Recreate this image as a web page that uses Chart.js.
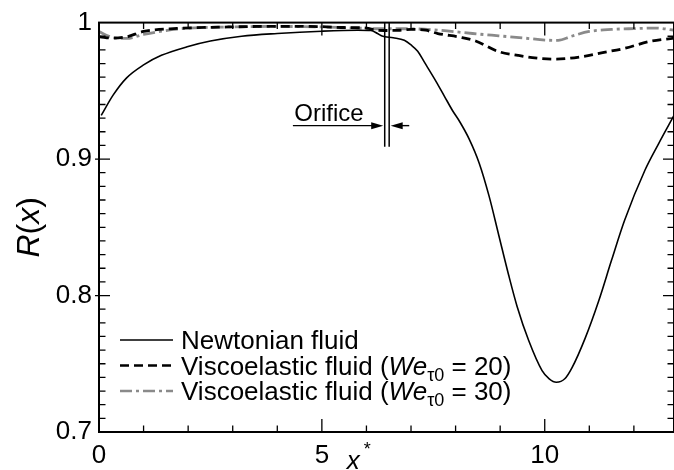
<!DOCTYPE html>
<html>
<head>
<meta charset="utf-8">
<title>R(x) along the channel</title>
<script src="https://cdn.jsdelivr.net/npm/chart.js@4.4.1/dist/chart.umd.min.js"></script>
<style>
  html, body { margin: 0; padding: 0; background: #fff; }
  canvas { display: block; }
</style>
</head>
<body>
<canvas id="chart" width="674" height="470"></canvas>
<script>
// axial position x* and R(x) for each fluid
const newtonX = [0.05, 0.32, 0.62, 1.0, 1.4, 2.0, 2.5, 3.2, 4.0, 5.0, 5.8, 6.1, 6.25, 6.35, 6.6, 6.85, 7.0, 7.15, 7.3, 7.56, 7.75, 7.93, 8.1, 8.3, 8.53, 8.75, 8.97, 9.19, 9.38, 9.64, 9.94, 10.1, 10.26, 10.45, 10.61, 10.91, 11.21, 11.5, 11.79, 12.25, 12.55, 12.9];
const newtonR = [0.932, 0.947, 0.9595, 0.969, 0.976, 0.9825, 0.9865, 0.990, 0.992, 0.9937, 0.9944, 0.9942, 0.992, 0.9902, 0.9889, 0.987, 0.9836, 0.979, 0.971, 0.957, 0.946, 0.9356, 0.927, 0.915, 0.897, 0.873, 0.844, 0.815, 0.792, 0.767, 0.745, 0.739, 0.7365, 0.739, 0.747, 0.769, 0.796, 0.826, 0.855, 0.892, 0.911, 0.932];

const we20X = [0.02, 0.3, 0.62, 1.0, 1.75, 2.9, 4.0, 5.0, 5.5, 6.0, 6.2, 6.4, 6.75, 7.0, 7.33, 7.6, 8.1, 8.45, 8.97, 9.4, 9.72, 10.24, 10.84, 11.3, 11.8, 12.33, 12.9];
const we20R = [0.9896, 0.9886, 0.9896, 0.9935, 0.9957, 0.9968, 0.9973, 0.997, 0.9964, 0.996, 0.9945, 0.9942, 0.9944, 0.995, 0.9944, 0.992, 0.9893, 0.9865, 0.9787, 0.976, 0.9744, 0.9732, 0.9751, 0.978, 0.9812, 0.986, 0.9886];

const we30X = [0.0, 0.25, 0.62, 1.0, 1.75, 2.9, 4.0, 5.0, 5.8, 6.2, 6.5, 6.9, 7.63, 8.38, 8.97, 9.5, 10.02, 10.3, 10.6, 11.0, 11.5, 12.0, 12.5, 12.9];
const we30R = [0.9935, 0.9896, 0.9884, 0.9913, 0.9952, 0.9968, 0.9972, 0.9968, 0.996, 0.9955, 0.9955, 0.9955, 0.9944, 0.992, 0.9903, 0.9888, 0.9872, 0.987, 0.990, 0.9935, 0.995, 0.9956, 0.996, 0.9944];

const seriesNames = ['Newtonian fluid', 'Viscoelastic fluid', 'Viscoelastic fluid'];
const weValues = [null, 20, 30];

const xTicks = [0, 5, 10];
const yTicks = [0.7, 0.8, 0.9, 1];

// orifice walls and the arrow marking it
const orificeX = [6.41, 6.51];
const orificeBottom = 0.909;

const FONT = "'Liberation Sans', Arial, Helvetica, sans-serif";

const toPoints = (xs, ys) => xs.map((v, i) => ({ x: v, y: ys[i] }));

function drawArrow(ctx, x1, x2, y) {
  const dir = Math.sign(x2 - x1);
  ctx.beginPath();
  ctx.moveTo(x1, y);
  ctx.lineTo(x2 - dir * 10, y);
  ctx.stroke();
  ctx.beginPath();
  ctx.moveTo(x2, y);
  ctx.lineTo(x2 - dir * 12, y - 3.5);
  ctx.lineTo(x2 - dir * 12, y + 3.5);
  ctx.closePath();
  ctx.fill();
}

const framePlugin = {
  id: 'frame',
  afterDraw(chart) {
    const { ctx, chartArea: a, scales: { x, y } } = chart;
    ctx.save();
    ctx.strokeStyle = '#000';
    ctx.fillStyle = '#000';

    // inward tick marks on all four sides
    ctx.lineWidth = 1.3;
    ctx.beginPath();
    for (let v = 1; v <= 12; v++) {
      const px = x.getPixelForValue(v);
      const len = v % 5 === 0 ? 13 : 6.5;
      ctx.moveTo(px, a.bottom); ctx.lineTo(px, a.bottom - len);
      ctx.moveTo(px, a.top); ctx.lineTo(px, a.top + len);
    }
    for (let i = 1; i < 30; i++) {
      const py = y.getPixelForValue(0.7 + i * 0.01);
      const major = i % 10 === 0;
      const len = major ? 11 : 6.5;
      ctx.moveTo(a.left - (major ? 4 : 0), py); ctx.lineTo(a.left + len, py);
      ctx.moveTo(a.right, py); ctx.lineTo(a.right - len, py);
    }
    ctx.stroke();
    ctx.lineWidth = 2;
    ctx.strokeRect(a.left, a.top, a.right - a.left, a.bottom - a.top);

    // orifice
    ctx.lineWidth = 1.5;
    ctx.beginPath();
    orificeX.forEach(v => {
      const px = x.getPixelForValue(v);
      ctx.moveTo(px, a.top);
      ctx.lineTo(px, y.getPixelForValue(orificeBottom));
    });
    ctx.stroke();
    const ay = y.getPixelForValue(0.9245);
    ctx.lineWidth = 1.4;
    drawArrow(ctx, x.getPixelForValue(4.35), x.getPixelForValue(orificeX[0]) - 1.5, ay);
    drawArrow(ctx, x.getPixelForValue(6.96), x.getPixelForValue(orificeX[1]) + 1.5, ay);
    ctx.font = '24px ' + FONT;
    ctx.textAlign = 'left';
    ctx.textBaseline = 'alphabetic';
    ctx.fillText('Orifice', x.getPixelForValue(4.38), ay - 4.5);

    // legend
    const rows = [a.bottom - 92, a.bottom - 66.5, a.bottom - 41];
    chart.data.datasets.forEach((ds, i) => {
      const ry = rows[i];
      ctx.save();
      ctx.strokeStyle = ds.borderColor;
      ctx.lineWidth = ds.legendWidth;
      ctx.setLineDash(ds.borderDash || []);
      ctx.beginPath();
      ctx.moveTo(a.left + 21, ry);
      ctx.lineTo(a.left + 74, ry);
      ctx.stroke();
      ctx.restore();

      let tx = a.left + 82;
      const base = ry + 9;
      const put = (txt, font, dy) => {
        ctx.font = font;
        ctx.fillText(txt, tx, base + (dy || 0));
        tx += ctx.measureText(txt).width;
      };
      if (weValues[i] == null) {
        put(seriesNames[i], '26px ' + FONT);
      } else {
        put(seriesNames[i] + ' (', '26px ' + FONT);
        put('We', 'italic 26px ' + FONT);
        put('τ0', '18px ' + FONT, 6);
        put(' = ' + weValues[i] + ')', '26px ' + FONT);
      }
    });

    // x axis title: x*
    const tx0 = x.getPixelForValue(5) + 25;
    ctx.font = 'italic 26px ' + FONT;
    ctx.fillText('x', tx0, a.bottom + 37);
    const xw = ctx.measureText('x').width;
    ctx.font = '18px ' + FONT;
    ctx.fillText('*', tx0 + xw + 4, a.bottom + 23);

    // y axis title: R(x), rotated
    ctx.translate(39, (a.top + a.bottom) / 2);
    ctx.rotate(-Math.PI / 2);
    const parts = [['R', 'italic 32px '], ['(', '32px '], ['x', 'italic 32px '], [')', '32px ']];
    let total = 0;
    parts.forEach(p => { ctx.font = p[1] + FONT; total += ctx.measureText(p[0]).width; });
    let cx = -total / 2;
    parts.forEach(p => {
      ctx.font = p[1] + FONT;
      ctx.fillText(p[0], cx, 0);
      cx += ctx.measureText(p[0]).width;
    });
    ctx.restore();
  }
};

new Chart(document.getElementById('chart'), {
  type: 'line',
  data: {
    datasets: [
      {
        label: seriesNames[0],
        data: toPoints(newtonX, newtonR),
        borderColor: '#000',
        borderWidth: 1.6,
        legendWidth: 1.4
      },
      {
        label: seriesNames[1] + ' (We = ' + weValues[1] + ')',
        data: toPoints(we20X, we20R),
        borderColor: '#000',
        borderWidth: 2.8,
        borderDash: [9, 5],
        legendWidth: 2.6
      },
      {
        label: seriesNames[2] + ' (We = ' + weValues[2] + ')',
        data: toPoints(we30X, we30R),
        borderColor: '#8a8a8a',
        borderWidth: 2.8,
        borderDash: [12, 4, 3, 4],
        legendWidth: 2.6
      }
    ]
  },
  options: {
    responsive: false,
    animation: false,
    devicePixelRatio: 1,
    layout: { padding: { top: 17, right: -2, left: 0, bottom: 0 } },
    elements: {
      point: { radius: 0 },
      line: { cubicInterpolationMode: 'monotone', fill: false }
    },
    plugins: {
      legend: { display: false },
      tooltip: { enabled: false }
    },
    scales: {
      x: {
        type: 'linear',
        min: 0,
        max: 12.9,
        afterFit: s => { s.height = 38; },
        afterBuildTicks: s => { s.ticks = xTicks.map(v => ({ value: v })); },
        grid: { display: false, drawTicks: false },
        border: { display: false },
        ticks: {
          autoSkip: false,
          maxRotation: 0,
          padding: 8,
          color: '#000',
          font: { family: FONT, size: 26 },
          callback: v => String(v)
        }
      },
      y: {
        type: 'linear',
        min: 0.7,
        max: 1,
        afterFit: s => { s.width = 99; },
        afterBuildTicks: s => { s.ticks = yTicks.map(v => ({ value: v })); },
        grid: { display: false, drawTicks: false },
        border: { display: false },
        ticks: {
          autoSkip: false,
          padding: 7,
          color: '#000',
          font: { family: FONT, size: 26 },
          callback: v => String(Math.round(v * 10) / 10)
        }
      }
    }
  },
  plugins: [framePlugin]
});
</script>
</body>
</html>
